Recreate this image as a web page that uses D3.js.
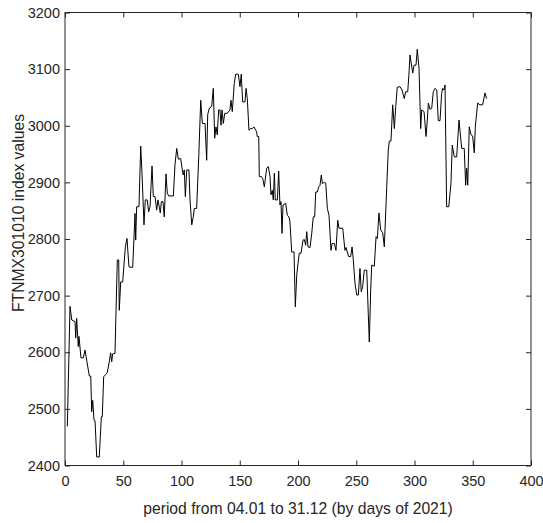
<!DOCTYPE html>
<html>
<head>
<meta charset="utf-8">
<script src="https://cdn.jsdelivr.net/npm/d3@7"></script>
<style>
  html, body { margin: 0; padding: 0; background: #fff; }
  svg text { font-family: "Liberation Sans", Arial, sans-serif; fill: #262626; }
</style>
</head>
<body>
<svg id="chart" width="543" height="523"></svg>
<script>
// ---- data ----
const days = [2.0,4.3,5.8,8.6,9.2,10.0,11.4,12.0,13.7,15.7,17.2,18.6,20.9,22.1,22.9,23.8,24.9,25.8,27.2,29.4,
  31.2,32.0,33.2,35.2,36.3,37.8,39.2,40.1,40.9,42.9,44.9,46.1,46.6,47.8,49.5,51.8,53.2,54.9,56.7,58.1,
  60.1,60.7,61.5,63.5,65.0,66.1,67.8,68.9,70.6,71.8,73.0,74.7,75.8,77.3,78.7,79.8,80.9,81.8,82.7,84.1,
  85.2,86.7,87.8,89.0,93.0,94.4,95.9,97.3,99.3,100.7,101.5,102.4,103.3,104.5,106.4,107.3,108.8,110.1,111.0,113.0,
  114.8,116.5,117.9,120.2,121.6,122.5,123.9,125.9,127.3,128.5,129.6,130.7,131.9,133.0,133.9,134.8,135.9,137.1,139.3,141.6,
  142.5,143.6,145.3,146.5,148.8,150.2,151.3,152.5,154.5,155.4,156.5,157.9,159.4,160.8,162.2,163.7,164.5,165.0,166.3,166.8,
  168.8,169.7,171.1,173.1,174.5,176.0,176.8,177.9,178.8,179.7,180.5,182.3,183.4,184.5,185.4,186.3,187.1,189.4,190.8,192.3,
  193.1,194.6,196.6,197.7,198.9,200.0,201.1,202.6,204.3,205.4,206.6,207.5,208.6,210.3,211.8,213.1,214.3,215.2,216.6,217.8,
  218.9,220.0,220.9,222.6,223.8,225.2,226.6,227.5,228.3,229.2,231.2,232.6,234.1,235.2,238.4,240.3,241.2,242.3,243.5,245.2,
  246.4,247.5,248.9,250.4,251.8,253.2,254.3,255.5,256.9,259.0,260.3,261.2,262.4,263.3,265.5,267.0,268.1,269.5,271.0,272.7,
  274.1,276.1,277.5,278.4,279.8,281.3,282.7,283.9,285.2,287.6,289.3,291.2,292.4,294.2,295.3,296.1,298.5,299.6,301.3,302.4,
  303.9,305.3,306.2,308.2,309.9,311.0,311.9,313.3,314.8,316.1,317.6,319.1,320.4,321.9,323.3,324.2,325.3,326.2,327.6,329.4,
  331.3,332.4,334.2,336.2,338.2,340.5,342.7,343.9,344.8,345.7,347.0,348.5,349.9,351.3,352.2,354.2,356.2,358.5,360.5,361.9];
const indexValues = [2469,2681,2657,2654,2625,2660,2610,2628,2590,2590,2604,2586,2558,2558,2495,2515,2480,2479,2415,2415,
  2486,2486,2557,2561,2564,2581,2599,2583,2597,2598,2763,2763,2674,2724,2724,2786,2801,2751,2750,2750,
  2845,2798,2857,2857,2964,2916,2825,2869,2869,2848,2857,2929,2875,2875,2851,2869,2857,2846,2866,2866,
  2839,2915,2881,2876,2876,2931,2960,2941,2942,2922,2913,2922,2875,2922,2922,2869,2825,2839,2854,2854,
  2945,3045,3004,3004,2939,3020,3031,3034,3066,2978,2998,2984,3028,3028,3001,3028,3004,3022,3022,3028,
  3045,3025,3075,3091,3091,3069,3091,3042,3042,3066,3048,2992,2995,2995,2998,2992,2989,2981,2981,2910,
  2910,2907,2892,2925,2928,2910,2878,2886,2869,2916,2869,2869,2920,2860,2866,2810,2860,2863,2842,2839,
  2830,2777,2777,2680,2736,2757,2775,2775,2798,2799,2789,2813,2786,2785,2810,2839,2839,2883,2883,2892,
  2895,2913,2898,2900,2899,2854,2842,2810,2780,2792,2792,2780,2833,2819,2819,2780,2785,2777,2769,2769,
  2786,2763,2722,2701,2701,2748,2707,2716,2745,2745,2669,2618,2710,2754,2752,2804,2801,2846,2816,2811,
  2786,2889,2957,2973,2973,3037,2995,3034,3068,3069,3063,3048,3060,3060,3093,3125,3093,3107,3107,3135,
  3101,2995,3028,3025,2981,3010,3040,3029,3031,3060,3066,3063,3009,3009,3057,3066,3063,3072,2857,2857,
  2898,2966,2945,2945,3010,2960,2960,2895,2925,2895,2998,2984,2982,2952,2998,3040,3037,3037,3058,3048];
const xTicks = [0,50,100,150,200,250,300,350,400];
const yTicks = [2400,2500,2600,2700,2800,2900,3000,3100,3200];
const xLabel = "period from 04.01 to 31.12 (by days of 2021)";
const yLabel = "FTNMX301010 index values";

// ---- layout ----
const L = 65, R = 531, T = 12.5, B = 465.5;
const svg = d3.select("#chart");
const x = d3.scaleLinear().domain([0, 400]).range([L, R]);
const y = d3.scaleLinear().domain([2400, 3200]).range([B, T]);
const tickLen = 5;
const fontSize = "14.5px";

// box
svg.append("rect").attr("x", L).attr("y", T).attr("width", R - L).attr("height", B - T)
  .attr("fill", "none").attr("stroke", "#262626").attr("stroke-width", 1);

// axes (ticks inward)
const bottomAxis = d3.axisBottom(x).tickValues(xTicks).tickSize(-tickLen).tickPadding(10).tickFormat(d3.format("d"));
const leftAxis = d3.axisLeft(y).tickValues(yTicks).tickSize(-tickLen).tickPadding(5).tickFormat(d3.format("d"));
const topAxis = d3.axisTop(x).tickValues(xTicks).tickSize(-tickLen).tickFormat("");
const rightAxis = d3.axisRight(y).tickValues(yTicks).tickSize(-tickLen).tickFormat("");

function style(g) {
  g.select(".domain").remove();
  g.selectAll(".tick line").attr("stroke", "#262626");
  g.selectAll(".tick text").attr("font-size", fontSize).attr("fill", "#262626")
    .style("font-family", "'Liberation Sans', Arial, sans-serif");
}
svg.append("g").attr("transform", `translate(0,${B})`).call(bottomAxis).call(style);
svg.append("g").attr("transform", `translate(${L},0)`).call(leftAxis).call(style);
svg.append("g").attr("transform", `translate(0,${T})`).call(topAxis).call(style);
svg.append("g").attr("transform", `translate(${R},0)`).call(rightAxis).call(style);

// line
const pts = days.map((d, i) => [d, indexValues[i]]);
svg.append("path").datum(pts)
  .attr("fill", "none").attr("stroke", "#000").attr("stroke-width", 1)
  .attr("stroke-linejoin", "miter")
  .attr("d", d3.line().x(d => x(d[0])).y(d => y(d[1])));

// labels
svg.append("text").attr("x", (L + R) / 2).attr("y", 514).attr("text-anchor", "middle")
  .attr("font-size", "15.7px").text(xLabel);
svg.append("text").attr("transform", `translate(24,213) rotate(-90)`)
  .attr("text-anchor", "middle").attr("font-size", "15.7px").text(yLabel);
</script>
</body>
</html>
